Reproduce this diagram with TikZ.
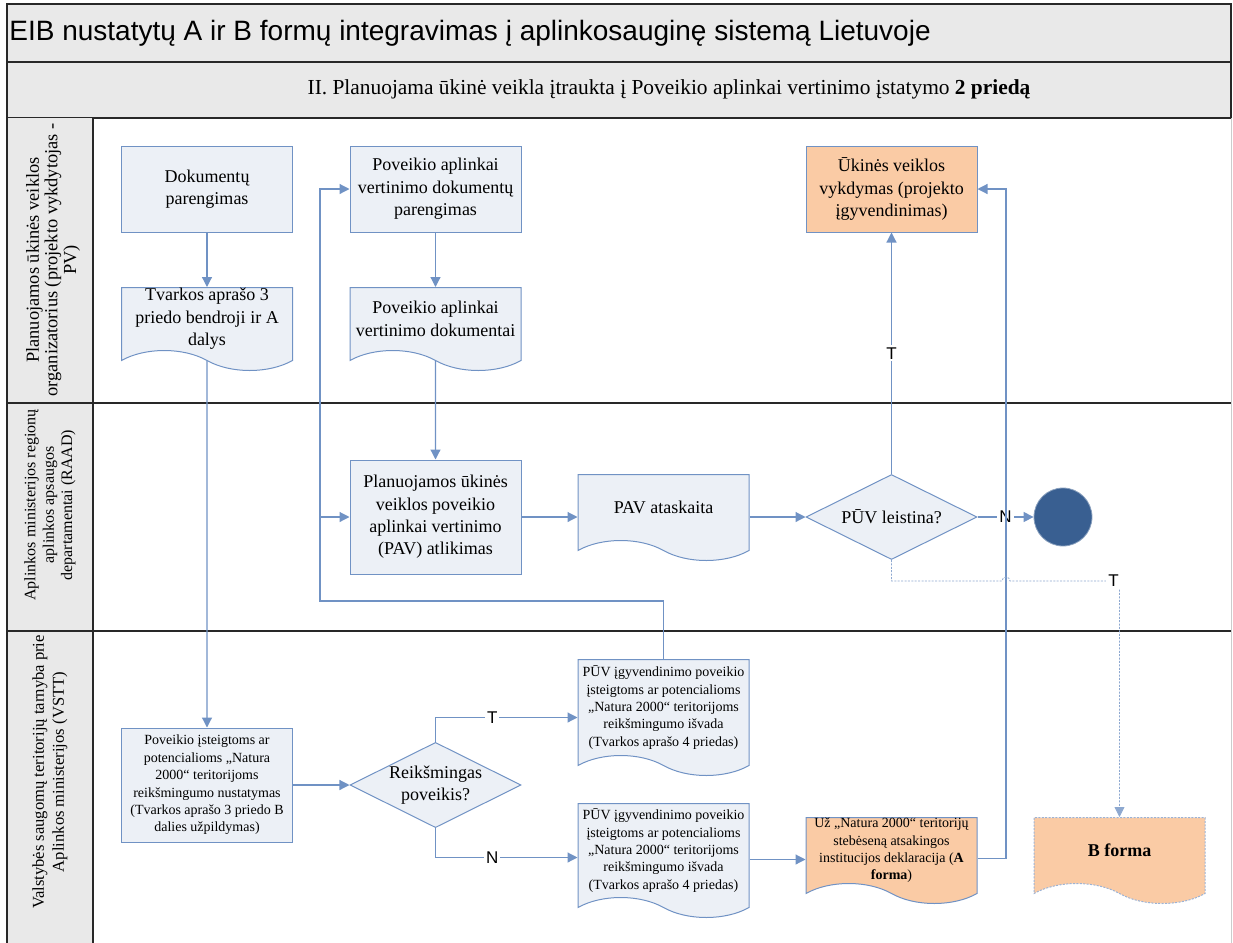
\documentclass[tikz,border=0pt]{standalone}
\usepackage{fontspec}
\setmainfont{Liberation Serif}
\newfontfamily\arialf{Liberation Sans}
\usetikzlibrary{arrows.meta,shapes.geometric,shapes.symbols}

\definecolor{boxfill}{RGB}{236,240,246}
\definecolor{boxline}{RGB}{112,146,196}
\definecolor{orangefill}{RGB}{250,203,165}
\definecolor{endfill}{RGB}{57,95,145}
\definecolor{lanefill}{RGB}{233,233,233}
\definecolor{laneline}{RGB}{40,40,40}

\tikzset{
  frameline/.style={draw=laneline, line width=0.8pt},
  lanetext/.style={rotate=90, align=center, inner sep=0pt},
  procbox/.style={rectangle, draw=boxline, fill=boxfill, line width=0.5pt,
    minimum width=85.5pt, minimum height=43pt, align=center, inner sep=2pt,
    font=\fontsize{9}{11.2}\selectfont},
  docbox/.style={tape, tape bend top=none, tape bend bottom=out and in,
    tape bend height=10pt, draw=boxline, fill=boxfill, line width=0.5pt,
    minimum width=85.5pt, align=center, inner sep=0pt,
    font=\fontsize{9}{11.2}\selectfont},
  decbox/.style={diamond, aspect=2, draw=boxline, fill=boxfill, line width=0.5pt,
    minimum width=85.5pt, minimum height=42.5pt, inner sep=0pt, align=center,
    font=\fontsize{9}{11.2}\selectfont},
  endpoint/.style={circle, fill=endfill, draw=endfill!60!white, line width=0.4pt,
    minimum size=29pt, inner sep=0pt},
  smalltext/.style={font=\fontsize{7}{8.7}\selectfont},
  flow/.style={draw=boxline, line width=0.6pt, -{Triangle[length=5pt,width=5pt]}},
  dotflow/.style={draw=boxline!80, line width=0.4pt, dash pattern=on 1pt off 0.7pt,
    -{Triangle[length=5pt,width=5pt]}},
  lab/.style={fill=white, inner sep=1pt, text=black,
    font=\arialf\fontsize{8.5}{9}\selectfont}
}

\begin{document}
\begin{tikzpicture}[x=0.5pt, y=-0.5pt]
  \useasboundingbox (0,0) rectangle (1233,943);
  % lanes
  \draw[frameline, fill=lanefill] (7,4) rectangle (1231,62);
  \draw[frameline, fill=lanefill] (7,62) rectangle (1231,118);
  \fill[lanefill] (7,118) rectangle (93,943);
  \draw[frameline] (7,118) -- (7,943) (93,118) -- (93,943);
  \draw[frameline] (7,403) -- (1231,403) (7,631) -- (1231,631);
  \draw[gray!40] (1231,118) -- (1231,943);

  \node (title) at (9,33) [anchor=west, inner sep=0pt, font=\arialf\fontsize{14}{16}\selectfont]
    {EIB nustatytų A ir B formų integravimas į aplinkosauginę sistemą Lietuvoje};
  \node (head) at (669,89) [font=\fontsize{10.7}{12}\selectfont]
    {II. Planuojama ūkinė veikla įtraukta į Poveikio aplinkai vertinimo įstatymo \textbf{2 priedą}};
  \node (lane1) at (53,260) [lanetext, font=\fontsize{9.2}{9.3}\selectfont]
    {Planuojamos ūkinės veiklos\\organizatorius (projekto vykdytojas -\\PV)};
  \node (lane2) at (50,505) [lanetext, font=\fontsize{8}{9.2}\selectfont]
    {Aplinkos ministerijos regionų\\aplinkos apsaugos\\departamentai (RAAD)};
  \node (lane3) at (50,772) [lanetext, font=\fontsize{8.3}{10}\selectfont]
    {Valstybės saugomų teritorijų tarnyba prie\\Aplinkos ministerijos (VSTT)};

  % steps
  \node (1) at (207,189) [procbox] {Dokumentų\\parengimas};
  \node (2) at (207,287) [docbox, anchor=north, minimum height=41.5pt] {Tvarkos aprašo 3\\priedo bendroji ir A\\dalys};
  \node (3) at (435.5,189) [procbox] {Poveikio aplinkai\\vertinimo dokumentų\\parengimas};
  \node (4) at (435.5,287) [docbox, anchor=north, minimum height=41.5pt] {Poveikio aplinkai\\vertinimo dokumentai};
  \node (5) at (435.5,517) [procbox, minimum height=57pt] {Planuojamos ūkinės\\veiklos poveikio\\aplinkai vertinimo\\(PAV) atlikimas};
  \node (6) at (663.5,474) [docbox, anchor=north, minimum height=43pt] {PAV ataskaita};
  \node (7) at (891.5,517) [decbox] {PŪV leistina?};
  \node (8) at (1063,517) [endpoint] {};
  \node (9) at (891.5,189) [procbox, fill=orangefill] {Ūkinės veiklos\\vykdymas (projekto\\įgyvendinimas)};
  \node (10) at (207,785) [procbox, smalltext, minimum height=57pt] {Poveikio įsteigtoms ar\\potencialioms „Natura\\2000“ teritorijoms\\reikšmingumo nustatymas\\(Tvarkos aprašo 3 priedo B\\dalies užpildymas)};
  \node (11) at (435.5,785) [decbox] {Reikšmingas\\poveikis?};
  \node (12) at (663.5,659) [docbox, smalltext, anchor=north, minimum height=58pt] {PŪV įgyvendinimo poveikio\\įsteigtoms ar potencialioms\\„Natura 2000“ teritorijoms\\reikšmingumo išvada\\(Tvarkos aprašo 4 priedas)};
  \node (13) at (663.5,803) [docbox, smalltext, anchor=north, minimum height=57pt] {PŪV įgyvendinimo poveikio\\įsteigtoms ar potencialioms\\„Natura 2000“ teritorijoms\\reikšmingumo išvada\\(Tvarkos aprašo 4 priedas)};
  \node (14) at (891.5,817) [docbox, smalltext, fill=orangefill, anchor=north, minimum height=43pt] {Už „Natura 2000“ teritorijų\\stebėseną atsakingos\\institucijos deklaracija (\textbf{A}\\\textbf{forma})};
  \node (15) at (1119.5,817) [docbox, fill=orangefill, draw=boxline!70, dash pattern=on 1pt off 0.7pt, anchor=north, minimum height=43pt, font=\bfseries\fontsize{9}{11}\selectfont] {B forma};

  % connectors
  \foreach \a/\b in {1/2, 3/4, 2/10, 4/5, 10/11}
    \draw[flow] (\a) -- (\b);
  \draw[flow] (5) -- (5 -| 6.west);
  \draw[flow] (6.east |- 7) -- (7);
  \draw[flow] (7) -- node[lab] {N} (8);
  \draw[flow] (7) -- node[lab] {T} (9);
  \draw[flow] (11.north) |- node[lab, pos=0.7] {T} ([yshift=-5pt]12.west);
  \draw[flow] (11.south) |- node[lab, pos=0.7] {N} ([yshift=-3.5pt]13.west);
  \draw[flow] ([yshift=-4.5pt]13.east) -- ([yshift=-4.5pt]13.east -| 14.west);
  \coordinate (k1) at (320,601);
  \draw[flow] (12.north) |- (k1) |- (3.west);
  \draw[flow] (k1) |- (5.west);
  \coordinate (k2) at (1006,189);
  \draw[flow] ([yshift=-4pt]14.east) -| (k2) -- (9.east);
  \coordinate (h1) at (1002,581);
  \coordinate (k3) at (1119.5,581);
  \draw[dotflow] (7.south) |- (h1) arc[start angle=180, end angle=360, radius=4]
    -- (k3) node[lab, xshift=-3pt] {T} -- (15.north);
\end{tikzpicture}
\end{document}
